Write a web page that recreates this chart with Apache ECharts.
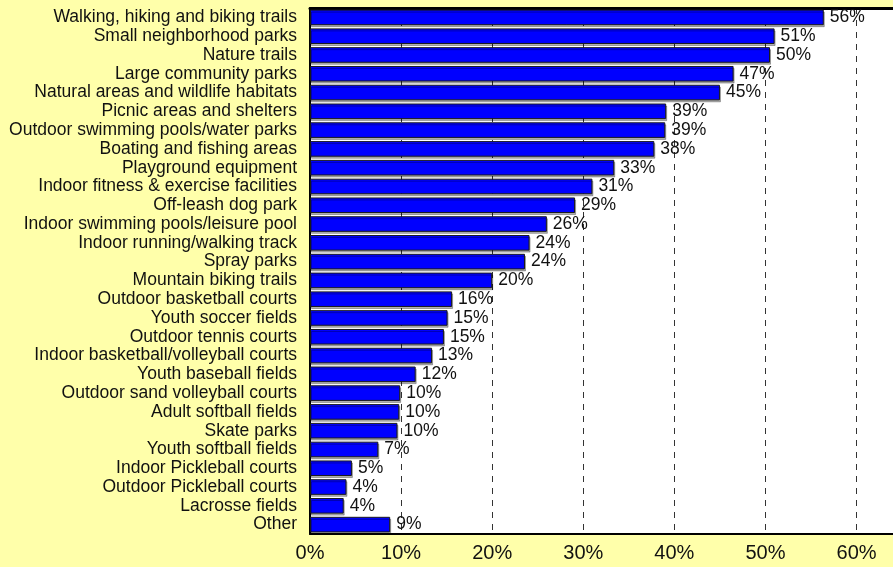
<!DOCTYPE html>
<html>
<head>
<meta charset="utf-8">
<script src="https://cdn.jsdelivr.net/npm/echarts@6/dist/echarts.min.js"></script>
<style>
  html, body { margin: 0; padding: 0; background: #FFFFAA; }
  #chart { width: 893px; height: 567px; }
</style>
</head>
<body>
<div id="chart"></div>
<script>
const categories = [
  'Walking, hiking and biking trails',
  'Small neighborhood parks',
  'Nature trails',
  'Large community parks',
  'Natural areas and wildlife habitats',
  'Picnic areas and shelters',
  'Outdoor swimming pools/water parks',
  'Boating and fishing areas',
  'Playground equipment',
  'Indoor fitness & exercise facilities',
  'Off-leash dog park',
  'Indoor swimming pools/leisure pool',
  'Indoor running/walking track',
  'Spray parks',
  'Mountain biking trails',
  'Outdoor basketball courts',
  'Youth soccer fields',
  'Outdoor tennis courts',
  'Indoor basketball/volleyball courts',
  'Youth baseball fields',
  'Outdoor sand volleyball courts',
  'Adult softball fields',
  'Skate parks',
  'Youth softball fields',
  'Indoor Pickleball courts',
  'Outdoor Pickleball courts',
  'Lacrosse fields',
  'Other'
];

// percent of respondents (bar length)
const values = [
  56.4, 51.0, 50.5, 46.5, 45.0, 39.1, 39.0, 37.8, 33.4, 31.0,
  29.1, 26.0, 24.1, 23.6, 20.0, 15.6, 15.1, 14.7, 13.4, 11.6,
  9.9, 9.8, 9.6, 7.5, 4.6, 4.0, 3.7, 8.8
];

// labels printed next to the bars
const valueLabels = [
  '56%', '51%', '50%', '47%', '45%', '39%', '39%', '38%', '33%', '31%',
  '29%', '26%', '24%', '24%', '20%', '16%', '15%', '15%', '13%', '12%',
  '10%', '10%', '10%', '7%', '5%', '4%', '4%', '9%'
];

const axisMax = 64;

const chart = echarts.init(document.getElementById('chart'));
const font = 'Arial, "Liberation Sans", sans-serif';

chart.setOption({
  backgroundColor: '#FFFFAA',
  animation: false,
  grid: {
    left: 310,
    right: 0,
    top: 8,
    bottom: 33,
    show: true,
    backgroundColor: '#FFFFFF',
    borderWidth: 0
  },
  xAxis: [{
    type: 'value',
    min: 0,
    max: axisMax,
    interval: 10,
    axisLine: { show: true, lineStyle: { color: '#000', width: 2 } },
    axisTick: { show: false },
    axisLabel: {
      color: '#111',
      fontSize: 20,
      fontFamily: font,
      margin: 9,
      showMaxLabel: false,
      formatter: v => v + '%'
    },
    splitLine: {
      show: true,
      lineStyle: { color: '#333', width: 1, type: [6, 6] }
    }
  }, {
    type: 'value',
    position: 'top',
    min: 0,
    max: axisMax,
    axisLine: { show: true, lineStyle: { color: '#000', width: 3 } },
    axisTick: { show: false },
    axisLabel: { show: false },
    splitLine: { show: false }
  }],
  yAxis: {
    type: 'category',
    inverse: true,
    data: categories,
    axisLine: { show: true, lineStyle: { color: '#000', width: 2 } },
    axisTick: { show: false },
    axisLabel: {
      color: '#111',
      fontSize: 17.5,
      fontFamily: font,
      margin: 13,
      interval: 0
    }
  },
  series: [{
    type: 'bar',
    xAxisIndex: 0,
    data: values,
    barCategoryGap: '17%',
    itemStyle: {
      color: '#0000FF',
      borderColor: '#1a1a1a',
      borderWidth: 1,
      shadowColor: 'rgba(0,0,0,0.3)',
      shadowOffsetX: 1,
      shadowOffsetY: 2,
      shadowBlur: 0
    },
    label: {
      show: true,
      position: 'right',
      distance: 6,
      color: '#111',
      fontSize: 17.5,
      fontFamily: font,
      formatter: p => valueLabels[p.dataIndex]
    }
  }]
});
</script>
</body>
</html>
